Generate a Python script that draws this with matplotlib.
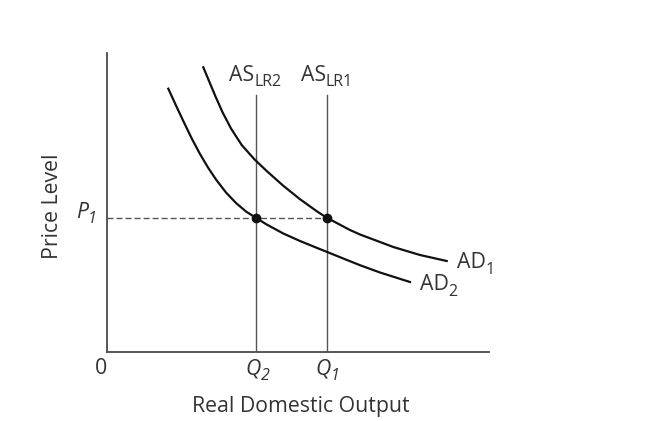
import matplotlib
matplotlib.use("Agg")
import matplotlib.pyplot as plt

plt.rcParams['font.family'] = ['Open Sans', 'DejaVu Sans']

# values, axis units (x 0-382, y 0-299)
ad1_x = [96.3, 108, 115.3, 124, 134.7, 147.3, 159.7, 176.3, 193, 209.7, 219.7, 243, 253, 286.3, 313, 339.7]
ad1_y = [284.7, 256.7, 240.2, 223.5, 207.0, 192.8, 181.0, 166.2, 152.8, 140.8, 134.3, 122, 117.5, 105, 97, 91]
ad2_x = [61.3, 69, 77, 85, 93, 101, 109, 119, 129, 139, 148.7, 159.7, 176.3, 193, 209.7, 219.7, 233, 253, 273, 303]
ad2_y = [263.3, 246.5, 229.5, 213, 198, 184.5, 172.5, 159.5, 149, 140.5, 134.3, 127.5, 118.5, 111, 104.2, 100.2, 94.8, 86.8, 79.5, 70]

q2 = 148.7
q1 = 219.7
p1 = 134.3
as_top = 257

x_max = 382
y_max = 299

ink = '#333333'
fs = 15.3
fs_sub = 11.5

fig = plt.figure(figsize=(6.53, 4.21), dpi=100)
ax = fig.add_axes([107 / 653, 69 / 421, 382 / 653, 299 / 421])
ax.set_xlim(0, x_max)
ax.set_ylim(0, y_max)
for s in ['top', 'right']:
    ax.spines[s].set_visible(False)
for s in ['left', 'bottom']:
    ax.spines[s].set_color('#4a4a4a')
    ax.spines[s].set_linewidth(1.3)
ax.set_xticks([])
ax.set_yticks([])

# long run AS
ax.plot([q2, q2], [0, as_top], color='#555555', lw=1.0)
ax.plot([q1, q1], [0, as_top], color='#555555', lw=1.0)

# price level dashes
ax.plot([0, q1], [p1, p1], color='#555555', lw=1.0, dashes=(4.3, 2.2))

# AD curves
ax.plot(ad1_x, ad1_y, color='#111111', lw=1.6, solid_joinstyle='round')
ax.plot(ad2_x, ad2_y, color='#111111', lw=1.6, solid_joinstyle='round')

ax.plot([q2, q1], [p1, p1], 'o', color='#111111', ms=6)


def label(x, y, main, sub, dx, dsub, style='normal'):
    # main text ends at the joint, subscript starts there a bit lower
    ax.annotate(main, (x, y), xytext=(dx, 0), textcoords='offset pixels',
                ha='right', va='baseline', fontsize=fs, color=ink,
                fontstyle=style, annotation_clip=False)
    ax.annotate(sub, (x, y), xytext=(dx, -dsub), textcoords='offset pixels',
                ha='left', va='baseline', fontsize=fs_sub, color=ink,
                fontstyle=style, annotation_clip=False)


label(q2, 271.3, 'AS', 'LR2', -1.5, 5.3)
label(q1, 271.3, 'AS', 'LR1', -1.0, 5.3)
label(378.5, 83.7, 'AD', '1', 0, 5.7)
label(341.5, 62, 'AD', '2', 0, 5.7)
label(q2, -22.3, 'Q', '2', 5.3, 5.7, 'italic')
label(q1, -22.3, 'Q', '1', 4.3, 5.7, 'italic')
label(-19, p1, 'P', '1', 0, 5.0, 'italic')
ax.text(-6, -22, '0', ha='center', va='baseline', fontsize=fs, color=ink)

ax.text(-49, 145.5, 'Price Level', rotation=90, rotation_mode='anchor',
        ha='center', va='baseline', fontsize=fs, color=ink)
ax.text(193.8, -59.7, 'Real Domestic Output', ha='center', va='baseline',
        fontsize=fs, color=ink)

fig.savefig('out.png', dpi=100)
